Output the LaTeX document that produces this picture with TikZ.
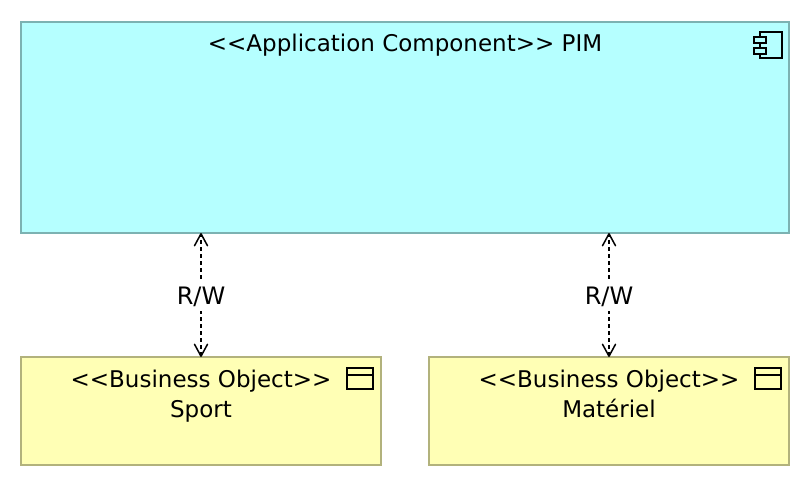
\documentclass[tikz,border=0pt]{standalone}
\usepackage{fontspec}
\setmainfont{DejaVu Sans}
\usetikzlibrary{arrows.meta}
\tikzset{
  x=1pt,y=-1pt,
  appbox/.style={draw=appedge,fill=appfill,line width=2pt,outer sep=0pt,minimum width=768pt,minimum height=211pt,inner sep=0pt,anchor=north west},
  objbox/.style={draw=objedge,fill=objfill,line width=2pt,outer sep=0pt,minimum width=360pt,minimum height=108pt,inner sep=0pt,anchor=north west},
  boxtext/.style={font=\fontsize{23}{30}\selectfont,text=black,inner sep=0pt,align=center},
  icon/.style={draw=black,line width=2pt},
  access/.style={draw=black,line width=1.6pt,dash pattern=on 3.5pt off 3.5pt,{Straight Barb[length=12pt,width=13pt,line width=1.5pt,round]}-{Straight Barb[length=12pt,width=13pt,line width=1.5pt,round]}},
  rwlabel/.style={fill=white,font=\fontsize{24}{28}\selectfont,inner xsep=2pt,inner ysep=5pt}
}
\definecolor{appfill}{RGB}{181,255,255}
\definecolor{appedge}{RGB}{124,178,178}
\definecolor{objfill}{RGB}{255,255,181}
\definecolor{objedge}{RGB}{178,178,124}
\begin{document}
\begin{tikzpicture}
\useasboundingbox (0,0) rectangle (810,486);
\node[appbox] (pim) at (21,22) {};
\node[objbox] (sport) at (21,357) {};
\node[objbox] (materiel) at (429,357) {};
\node[boxtext] (pimt) at (405,46) {\strut <{}<Application Component>{}> PIM};
\node[boxtext] (sportt) at (201,396) {\strut <{}<Business Object>{}>\\\strut Sport};
\node[boxtext] (materielt) at (609,396) {\strut <{}<Business Object>{}>\\\strut Matériel};
% icons
\draw[icon] (760,37) -- (760,32) -- (782,32) -- (782,58) -- (760,58) -- (760,54);
\draw[icon] (760,43) -- (760,48);
\draw[icon] (754,37) rectangle (766,43);
\draw[icon] (754,48) rectangle (766,54);
\draw[icon] (347,368) rectangle (373,389);
\draw[icon] (347,375) -- (373,375);
\draw[icon] (755,368) rectangle (781,389);
\draw[icon] (755,375) -- (781,375);
% connectors
\draw[access] (sport.north) -- (sport.north |- pim.south) node[pos=0.488,rwlabel] (rw1) {R/W};
\draw[access] (materiel.north) -- (materiel.north |- pim.south) node[pos=0.488,rwlabel] (rw2) {R/W};
\end{tikzpicture}
\end{document}
